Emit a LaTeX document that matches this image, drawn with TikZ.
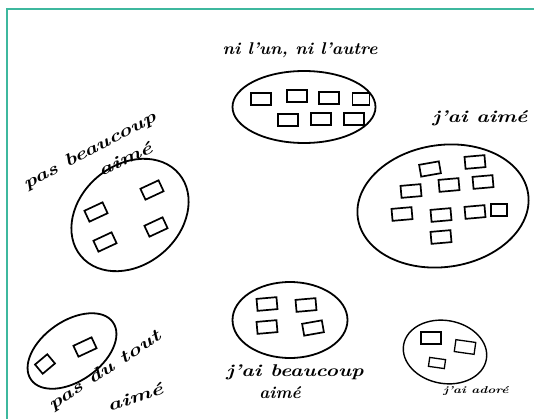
\documentclass[tikz,border=0pt]{standalone}
\usepackage{tikz}
\usetikzlibrary{shapes.geometric}

\definecolor{framegreen}{HTML}{3DB89E}
\newcommand{\handw}[2]{\scalebox{#1}[1]{#2}}

\begin{document}
\begin{tikzpicture}[
  x=1pt, y=-1pt,
  group/.style={draw, ellipse, line width=1.8pt, inner sep=0pt},
  card/.style={draw, line width=1.7pt, minimum width=20pt, minimum height=12pt, inner sep=0pt},
  hand/.style={font=\fontsize{17}{17}\selectfont\bfseries\itshape, inner sep=0pt}
]
\useasboundingbox (0,0) rectangle (534,419);
\draw[framegreen, line width=2pt] (7,419) -- (7,9) -- (534,9);

% ni l'un, ni l'autre
\node[group, minimum width=143pt, minimum height=72pt] (neither) at (304,107) {};
\node[card] (n1) at (261,99) {};
\node[card] (n2) at (297,96) {};
\node[card] (n3) at (329,98) {};
\node[card, minimum width=17pt] (n4) at (361,99) {};
\node[card] (n5) at (288,120) {};
\node[card] (n6) at (321,119) {};
\node[card] (n7) at (354,119) {};
\node[hand] (neitherlbl) at (300,50) {\handw{1.04}{ni l'un, ni l'autre}};

% pas beaucoup aime
\node[group, minimum width=128pt, minimum height=100pt, rotate=40] (notmuch) at (130,215) {};
\node[card, rotate=25] (p1) at (96,212) {};
\node[card, rotate=25] (p2) at (152,190) {};
\node[card, rotate=25] (p3) at (105,242) {};
\node[card, rotate=25] (p4) at (156,227) {};
\node[hand, rotate=28] (notmuchlbl) at (90,151) {\handw{1.35}{pas beaucoup}};
\node[hand, rotate=25] (notmuchlbl2) at (125,159) {\handw{1.4}{aim\'e}};

% j'ai aime
\node[group, minimum width=172pt, minimum height=122pt, rotate=8] (liked) at (443,206) {};
\node[card, rotate=10] (l1) at (430,169) {};
\node[card, rotate=5] (l2) at (475,162) {};
\node[card, rotate=5] (l3) at (411,191) {};
\node[card, rotate=5] (l4) at (449,185) {};
\node[card, rotate=5] (l5) at (483,182) {};
\node[card, rotate=5] (l6) at (402,214) {};
\node[card, rotate=5] (l7) at (441,215) {};
\node[card, rotate=5] (l8) at (475,212) {};
\node[card, minimum width=16pt] (l9) at (499,210) {};
\node[card, rotate=5] (l10) at (441,237) {};
\node[hand] (likedlbl) at (480,118) {\handw{1.24}{j'ai aim\'e}};

% pas du tout aime
\node[group, minimum width=100pt, minimum height=60pt, rotate=35] (notatall) at (72,351) {};
\node[card, rotate=40, minimum width=16pt] (t1) at (45,364) {};
\node[card, rotate=25] (t2) at (85,347) {};
\node[hand, rotate=33] (notatalllbl) at (105,371) {\handw{1.36}{pas du tout}};
\node[hand, rotate=18] (notatalllbl2) at (135,397) {\handw{1.4}{aim\'e}};

% j'ai beaucoup aime
\node[group, minimum width=115pt, minimum height=76pt] (likedmuch) at (290,320) {};
\node[card, rotate=5] (b1) at (267,304) {};
\node[card, rotate=5] (b2) at (306,305) {};
\node[card, rotate=5] (b3) at (267,327) {};
\node[card, rotate=10] (b4) at (313,328) {};
\node[hand] (likedmuchlbl) at (295,372) {\handw{1.24}{j'ai beaucoup}};
\node[hand] (likedmuchlbl2) at (280,393) {aim\'e};

% j'ai adore
\node[group, minimum width=84pt, minimum height=63pt, rotate=-10, line width=1.4pt] (loved) at (445,352) {};
\node[card, line width=1.3pt] (a1) at (431,338) {};
\node[card, rotate=-8, line width=1.3pt] (a2) at (465,347) {};
\node[card, rotate=-8, line width=1.3pt, minimum width=16pt, minimum height=9pt] (a3) at (437,363) {};
\node[hand, font=\fontsize{10}{10}\selectfont\bfseries\itshape] (lovedlbl) at (476,391) {\handw{1.35}{j'ai ador\'e}};
\end{tikzpicture}
\end{document}
